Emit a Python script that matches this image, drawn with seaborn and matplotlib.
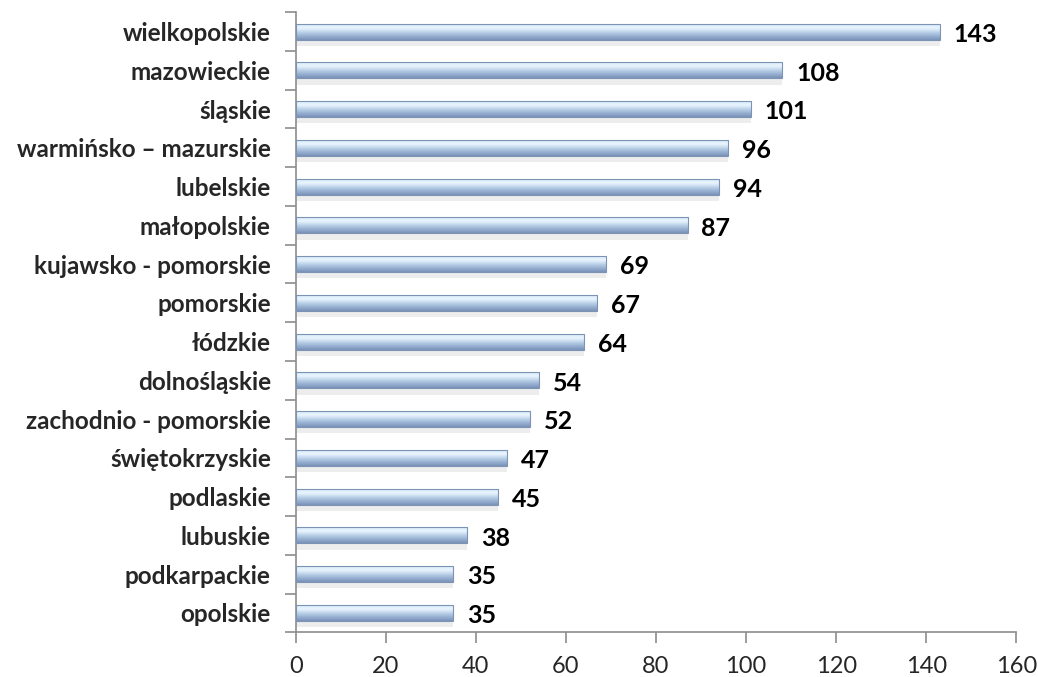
import numpy as np
import pandas as pd
import matplotlib
matplotlib.use("Agg")
import matplotlib.pyplot as plt
import seaborn as sns
from matplotlib.colors import LinearSegmentedColormap

regions = ["wielkopolskie", "mazowieckie", "śląskie", "warmińsko – mazurskie", "lubelskie",
           "małopolskie", "kujawsko - pomorskie", "pomorskie", "łódzkie", "dolnośląskie",
           "zachodnio - pomorskie", "świętokrzyskie", "podlaskie", "lubuskie",
           "podkarpackie", "opolskie"]
values = [143, 108, 101, 96, 94, 87, 69, 67, 64, 54, 52, 47, 45, 38, 35, 35]
xticks = [0, 20, 40, 60, 80, 100, 120, 140, 160]

df = pd.DataFrame({"region": regions, "value": values})

sns.set_theme(style="white")
plt.rcParams['font.family'] = ['Lato', 'DejaVu Sans']

fig = plt.figure(figsize=(10.38, 6.77), dpi=100)
ax = fig.add_axes([0.285, 0.066, 0.694, 0.916])

sns.barplot(data=df, x="value", y="region", orient="h", ax=ax,
            color="#a9c1de", edgecolor="#7d93b3", linewidth=0.8, width=0.41,
            saturation=1)

cmap = LinearSegmentedColormap.from_list(
    "g", ["#d6e8f8", "#eaf6fe", "#bcd2ea", "#98b1d2", "#7891b8"])
grad = np.linspace(0, 1, 64).reshape(-1, 1)
for p in list(ax.patches):
    x0, y0 = p.get_x(), p.get_y()
    w, h = p.get_width(), p.get_height()
    # shadow
    ax.bar(x0 + w / 2, h * 0.4, width=w, bottom=y0 + h, color="#000000",
           alpha=0.07, zorder=1, linewidth=0)
    im = ax.imshow(grad, cmap=cmap, aspect="auto", extent=(x0, x0 + w, y0 + h, y0),
                   zorder=2, interpolation="bicubic")
    im.set_clip_path(p)
    p.set_zorder(3)
    p.set_facecolor("none")

ax.set_xlim(0, 160)
ax.set_ylim(len(regions) - 0.5, -0.5)
ax.set_xticks(xticks)
ax.set_xticklabels([str(t) for t in xticks], fontsize=17)
ax.set_yticks(range(len(regions)))
ax.set_yticklabels(regions, fontsize=17.5, fontweight="bold")
ax.set_yticks(np.arange(-0.5, len(regions), 1.0), minor=True)
ax.tick_params(axis="y", which="major", length=0, pad=18)
ax.tick_params(axis="y", which="minor", length=8, width=1.2, color="#8c8c8c", left=True)
ax.tick_params(axis="x", which="major", length=8, width=1.2, color="#8c8c8c",
               bottom=True, pad=9)
ax.set_xlabel("")
ax.set_ylabel("")

for s in ["top", "right"]:
    ax.spines[s].set_visible(False)
for s in ["left", "bottom"]:
    ax.spines[s].set_color("#8c8c8c")
    ax.spines[s].set_linewidth(1.2)

for i, v in enumerate(values):
    ax.annotate(str(v), xy=(v, i), xytext=(10, -2), textcoords="offset points",
                va="center", ha="left", fontsize=18, fontweight="bold", color="black")

fig.savefig("out.png", dpi=100)
